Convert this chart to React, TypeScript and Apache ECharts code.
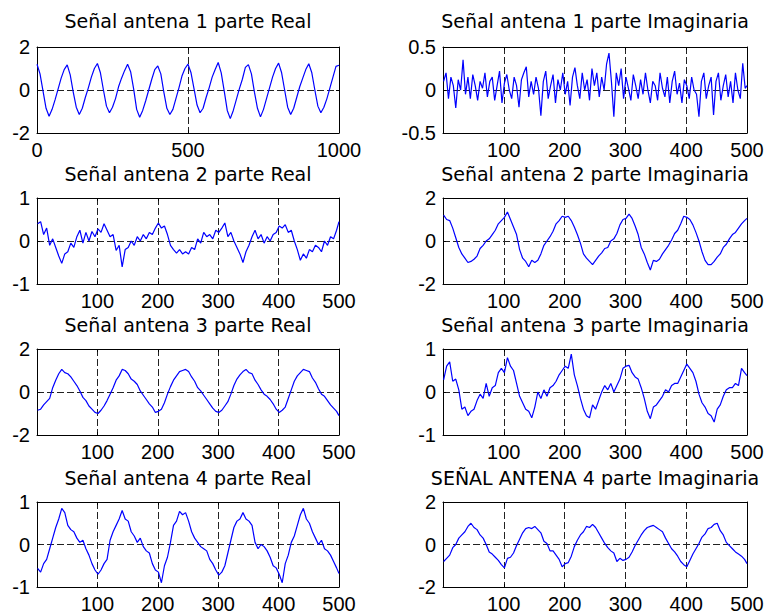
import React, { useEffect, useRef } from 'react';
import * as echarts from 'echarts';

// ---------- titles ----------
const TITLES = [
  'Señal antena 1 parte Real',
  'Señal antena 1 parte Imaginaria',
  'Señal antena 2 parte Real',
  'Señal antena 2 parte Imaginaria',
  'Señal antena 3 parte Real',
  'Señal antena 3 parte Imaginaria',
  'Señal antena 4 parte Real',
  'SEÑAL ANTENA 4 parte Imaginaria',
];

// ---------- axis ranges / ticks ----------
const X_MAX = [1000, 500, 500, 500, 500, 500, 500, 500];
const X_INTERVAL = [500, 100, 100, 100, 100, 100, 100, 100];
const Y_MIN = [-2, -0.5, -1, -2, -2, -1, -1, -2];
const Y_MAX = [2, 0.5, 1, 2, 2, 1, 1, 2];
const Y_INTERVAL = [2, 0.5, 1, 2, 2, 1, 1, 2];

// ---------- sampling grid of each series (first sample index, step, last index) ----------
const X_FIRST = [0, 1, 1, 1, 1, 1, 1, 1];
const X_STEP = [10, 4, 5, 5, 5, 5, 5, 5];
const X_LAST = [1000, 500, 500, 500, 500, 500, 500, 500];

// ---------- series values ----------
const S1_REAL = [
  1.2, 0.75, -0.05, -0.85, -1.22, -0.9, -0.45, 0.05, 0.55, 0.95,
  1.17, 0.7, -0.1, -0.8, -1.14, -0.85, -0.35, 0.1, 0.6, 1.0,
  1.23, 0.8, 0.0, -0.75, -1.06, -0.8, -0.4, 0.15, 0.55, 0.9,
  1.2, 0.85, 0.05, -0.9, -1.27, -0.95, -0.5, 0.0, 0.5, 0.95,
  1.12, 0.75, -0.1, -0.85, -1.14, -0.9, -0.4, 0.1, 0.65, 1.0,
  1.2, 0.8, 0.05, -0.7, -1.06, -0.85, -0.35, 0.1, 0.6, 0.95,
  1.28, 0.8, -0.05, -0.95, -1.33, -0.95, -0.45, 0.05, 0.5, 1.05,
  1.18, 0.75, -0.1, -0.85, -1.25, -0.9, -0.4, 0.1, 0.6, 1.0,
  1.25, 0.8, 0.0, -0.8, -1.14, -0.85, -0.35, 0.15, 0.55, 0.95,
  1.22, 0.8, 0.0, -0.75, -1.06, -0.8, -0.4, 0.1, 0.6, 1.1,
  1.15,
];

const S1_IMAG = [
  0.1, 0.2, -0.1, 0.15, 0.05, -0.21, 0.12, 0.0, 0.35, -0.05,
  0.15, -0.1, 0.18, 0.05, -0.12, 0.1, 0.02, 0.2, -0.08, 0.1,
  0.15, -0.12, 0.05, 0.22, -0.15, 0.08, 0.18, 0.0, -0.1, 0.15,
  0.05, -0.2, 0.12, 0.2, 0.27, -0.08, 0.1, -0.05, 0.15, 0.02,
  -0.3, 0.1, 0.22, -0.1, 0.05, 0.18, -0.15, 0.12, 0.0, 0.2,
  -0.05, 0.1, -0.18, 0.15, 0.26, 0.05, -0.1, 0.2, 0.0, 0.12,
  -0.12, 0.25, 0.05, 0.2, -0.08, 0.15, 0.0, 0.3, 0.43, 0.1,
  -0.31, 0.2, 0.05, 0.25, -0.1, 0.15, 0.02, -0.12, 0.18, 0.05,
  -0.1, 0.12, -0.05, 0.2, 0.0, -0.15, 0.1, 0.05, -0.12, 0.2,
  0.02, -0.08, 0.15, -0.15, 0.1, 0.22, -0.05, 0.08, -0.15, 0.12,
  0.05, -0.1, 0.15, 0.0, -0.05, -0.31, 0.1, 0.2, -0.1, 0.05,
  0.15, -0.29, 0.1, 0.2, -0.12, 0.05, 0.18, -0.08, 0.1, -0.15,
  0.2, 0.0, -0.1, 0.31, 0.02, 0.05,
];

const S2_REAL = [
  0.4, 0.45, 0.15, 0.3, -0.1, 0.05, -0.15, -0.35, -0.52, -0.3,
  -0.25, -0.05, -0.15, 0.1, 0.25, -0.05, 0.2, 0.0, 0.22, 0.1,
  0.28, 0.2, 0.4, 0.25, 0.1, 0.15, -0.22, -0.1, -0.6, -0.2,
  -0.15, 0.0, -0.1, 0.1, 0.0, 0.15, 0.05, 0.2, 0.15, 0.3,
  0.42, 0.3, 0.35, 0.15, -0.1, -0.2, -0.28, -0.2, -0.3, -0.25,
  -0.3, -0.15, -0.2, 0.05, -0.05, 0.2, 0.1, 0.15, 0.05, 0.25,
  0.2, 0.3, 0.42, 0.1, 0.2, 0.0, -0.15, -0.3, -0.5, -0.25,
  -0.1, 0.1, 0.25, 0.05, 0.15, -0.05, 0.1, 0.0, 0.15, 0.2,
  0.35, 0.3, 0.38, 0.2, 0.25, 0.0, -0.2, -0.45, -0.3, -0.4,
  -0.2, -0.25, -0.1, -0.15, -0.25, 0.0, -0.1, 0.1, 0.05, 0.25,
  0.45,
];

const S2_IMAG = [
  1.2, 1.0, 0.95, 0.6, 0.15, -0.3, -0.6, -0.8, -1.0, -0.95,
  -0.85, -0.7, -0.35, -0.2, 0.0, 0.1, 0.3, 0.5, 0.8, 0.95,
  1.1, 1.35, 1.0, 0.65, 0.3, -0.4, -0.8, -0.95, -1.2, -0.9,
  -1.0, -0.9, -0.6, -0.2, 0.0, 0.2, 0.45, 0.8, 0.95, 1.15,
  1.1, 1.15, 0.95, 0.65, 0.3, -0.1, -0.6, -0.8, -0.95, -1.1,
  -0.9, -0.7, -0.55, -0.35, -0.3, 0.0, 0.1, 0.35, 0.75, 1.0,
  1.05, 1.25, 1.05, 0.7, 0.3, -0.3, -0.6, -1.0, -1.35, -0.9,
  -0.95, -0.85, -0.6, -0.4, -0.2, 0.05, 0.35, 0.5, 0.8, 1.15,
  1.1, 1.0, 0.75, 0.4, 0.0, -0.5, -0.9, -1.1, -1.1, -0.95,
  -0.75, -0.6, -0.3, -0.15, 0.1, 0.3, 0.4, 0.6, 0.8, 0.95,
  1.05,
];

const S3_REAL = [
  -0.85, -0.8, -0.6, -0.45, -0.3, 0.2, 0.55, 0.85, 1.05, 0.9,
  0.85, 0.7, 0.5, 0.3, 0.05, -0.25, -0.4, -0.65, -0.8, -0.95,
  -1.0, -0.85, -0.65, -0.4, -0.1, 0.2, 0.55, 0.75, 1.05, 1.0,
  0.85, 0.6, 0.5, 0.35, 0.05, -0.15, -0.35, -0.55, -0.7, -0.95,
  -0.9, -0.8, -0.5, -0.1, 0.25, 0.55, 0.75, 0.95, 1.0, 1.05,
  0.95, 0.7, 0.5, 0.2, 0.05, -0.15, -0.35, -0.55, -0.75, -0.9,
  -0.95, -0.85, -0.65, -0.45, -0.1, 0.3, 0.6, 0.8, 0.95, 1.05,
  0.9, 0.85, 0.55, 0.35, 0.1, -0.1, -0.2, -0.35, -0.55, -0.8,
  -0.95, -0.85, -0.7, -0.3, 0.1, 0.5, 0.75, 0.9, 1.05, 1.0,
  0.95, 0.65, 0.45, 0.15, -0.1, -0.2, -0.4, -0.6, -0.75, -0.9,
  -1.1,
];

const S3_IMAG = [
  0.28, 0.6, 0.7, 0.25, 0.3, 0.05, -0.4, -0.35, -0.55, -0.45,
  -0.4, -0.2, -0.05, -0.15, 0.2, -0.1, 0.1, 0.15, 0.45, 0.55,
  0.45, 0.8, 0.6, 0.5, 0.2, -0.1, -0.25, -0.4, -0.45, -0.6,
  -0.35, 0.0, -0.15, 0.05, -0.1, 0.1, 0.15, 0.25, 0.4, 0.5,
  0.6, 0.55, 0.88, 0.4, 0.15, -0.15, -0.4, -0.55, -0.6, -0.3,
  -0.4, -0.2, 0.0, 0.15, 0.05, 0.2, 0.0, 0.15, 0.3, 0.55,
  0.6, 0.62, 0.45, 0.35, 0.3, 0.1, -0.15, -0.45, -0.62, -0.35,
  -0.3, -0.2, -0.1, 0.05, 0.0, 0.15, 0.2, 0.2, 0.35, 0.5,
  0.65, 0.55, 0.45, 0.25, -0.05, -0.25, -0.35, -0.5, -0.55, -0.7,
  -0.4, -0.3, -0.1, 0.05, 0.1, 0.1, 0.2, 0.15, 0.55, 0.45,
  0.38,
];

const S4_REAL = [
  -0.56, -0.65, -0.45, -0.35, -0.1, 0.15, 0.4, 0.6, 0.85, 0.75,
  0.45, 0.35, 0.3, 0.15, 0.05, 0.1, -0.1, -0.25, -0.45, -0.6,
  -0.7, -0.6, -0.45, -0.35, 0.1, 0.3, 0.45, 0.6, 0.8, 0.6,
  0.55, 0.3, 0.2, 0.05, 0.15, -0.05, -0.15, -0.2, -0.45, -0.6,
  -0.65, -0.9, -0.5, -0.3, 0.05, 0.45, 0.55, 0.78, 0.7, 0.75,
  0.55, 0.3, 0.15, 0.05, -0.05, -0.1, -0.15, -0.35, -0.45, -0.6,
  -0.72, -0.65, -0.5, -0.2, 0.1, 0.4, 0.55, 0.6, 0.75, 0.6,
  0.55, 0.45, 0.05, -0.1, 0.0, -0.05, -0.15, -0.3, -0.5, -0.55,
  -0.7, -0.9, -0.45, -0.25, 0.05, 0.2, 0.45, 0.7, 0.85, 0.6,
  0.5, 0.3, 0.15, 0.0, 0.1, -0.1, -0.15, -0.25, -0.4, -0.55,
  -0.68,
];

const S4_IMAG = [
  -0.8, -0.65, -0.5, -0.15, 0.0, 0.3, 0.45, 0.6, 0.85, 1.0,
  0.8, 0.7, 0.45, 0.3, 0.0, -0.35, -0.45, -0.6, -0.75, -0.95,
  -1.1, -0.65, -0.6, -0.4, -0.05, 0.25, 0.55, 0.75, 0.8, 0.75,
  0.85, 0.7, 0.55, 0.15, 0.05, -0.3, -0.3, -0.5, -0.7, -1.05,
  -0.9, -0.85, -0.55, -0.1, 0.2, 0.45, 0.6, 0.85, 0.8, 0.95,
  0.8, 0.55, 0.3, 0.05, -0.15, -0.3, -0.4, -0.8, -0.65, -0.75,
  -0.7, -0.6, -0.35, -0.05, 0.2, 0.45, 0.65, 0.8, 0.85, 0.9,
  0.8, 0.7, 0.6, 0.3, 0.05, -0.2, -0.35, -0.55, -0.8, -0.95,
  -1.05, -0.75, -0.45, -0.2, 0.05, 0.35, 0.5, 0.75, 0.8, 0.95,
  1.0, 0.65, 0.45, 0.1, -0.05, -0.2, -0.35, -0.45, -0.55, -0.7,
  -0.9,
];

const SERIES_VALUES = [S1_REAL, S1_IMAG, S2_REAL, S2_IMAG, S3_REAL, S3_IMAG, S4_REAL, S4_IMAG];

// ---------- layout (pixels) ----------
const COL_LEFT = [37, 443];
const COL_WIDTH = [302, 304];
const ROW_TOP = [47, 198, 349, 502];
const PLOT_HEIGHT = 86;
const TITLE_BASELINE = [27.5, 180, 331, 484];

const TICK_FONT = 'Liberation Sans, Arial, sans-serif';
const TITLE_FONT = 'DejaVu Sans, sans-serif';
const LINE_BLUE = '#0000ff';

export default function App() {
  const ref = useRef<HTMLDivElement>(null);

  useEffect(() => {
    const el = ref.current;
    if (!el) return;
    const chart = echarts.init(el, null, { renderer: 'svg' });

    const grids: any[] = [];
    const xAxes: any[] = [];
    const yAxes: any[] = [];
    const series: any[] = [];
    const graphics: any[] = [];

    const axisLine = { show: true, onZero: false, lineStyle: { color: '#000', width: 1 } };
    const axisTick = { show: true, inside: true, length: 3, lineStyle: { color: '#000', width: 1 } };
    const splitLine = { show: true, lineStyle: { color: '#222', width: 1, type: [7, 3] } };
    const labelStyle = { color: '#000', fontFamily: TICK_FONT, fontSize: 20 };

    for (let k = 0; k < 8; k++) {
      const col = k % 2;
      const row = Math.floor(k / 2);
      const left = COL_LEFT[col];
      const width = COL_WIDTH[col];
      const top = ROW_TOP[row];
      grids.push({ left, top, width, height: PLOT_HEIGHT, containLabel: false });

      const hideZero = X_INTERVAL[k] === 100;
      xAxes.push({
        type: 'value', gridIndex: k, position: 'bottom',
        min: 0, max: X_MAX[k], interval: X_INTERVAL[k],
        axisLine, axisTick,
        axisLabel: {
          ...labelStyle, margin: 7,
          formatter: (v: number) => (hideZero && v === 0 ? '' : String(v)),
        },
        splitLine,
      });
      xAxes.push({
        type: 'value', gridIndex: k, position: 'top',
        min: 0, max: X_MAX[k], interval: X_INTERVAL[k],
        axisLine, axisTick, axisLabel: { show: false }, splitLine: { show: false },
      });
      yAxes.push({
        type: 'value', gridIndex: k, position: 'left',
        min: Y_MIN[k], max: Y_MAX[k], interval: Y_INTERVAL[k],
        axisLine, axisTick,
        axisLabel: { ...labelStyle, margin: 7, formatter: (v: number) => String(v) },
        splitLine,
      });
      yAxes.push({
        type: 'value', gridIndex: k, position: 'right',
        min: Y_MIN[k], max: Y_MAX[k], interval: Y_INTERVAL[k],
        axisLine, axisTick, axisLabel: { show: false }, splitLine: { show: false },
      });

      const vals = SERIES_VALUES[k];
      const data = vals.map((v, i) => [Math.min(X_FIRST[k] + i * X_STEP[k], X_LAST[k]), v]);
      series.push({
        type: 'line', xAxisIndex: 2 * k, yAxisIndex: 2 * k,
        data, showSymbol: false, symbol: 'none', silent: true, z: 3,
        lineStyle: { color: LINE_BLUE, width: 1.2 },
      });

      graphics.push({
        type: 'text', x: left + width / 2, y: TITLE_BASELINE[row] - 6.5,
        style: {
          text: TITLES[k], fill: '#000', fontFamily: TITLE_FONT, fontSize: 19,
          align: 'center', verticalAlign: 'middle',
        },
      });
    }

    chart.setOption({
      animation: false,
      backgroundColor: '#fff',
      grid: grids,
      xAxis: xAxes,
      yAxis: yAxes,
      series,
      graphic: graphics,
    });

    return () => chart.dispose();
  }, []);

  return (
    <div
      ref={ref}
      style={{ position: 'fixed', left: 0, top: 0, width: 768, height: 614, background: '#fff' }}
    />
  );
}
